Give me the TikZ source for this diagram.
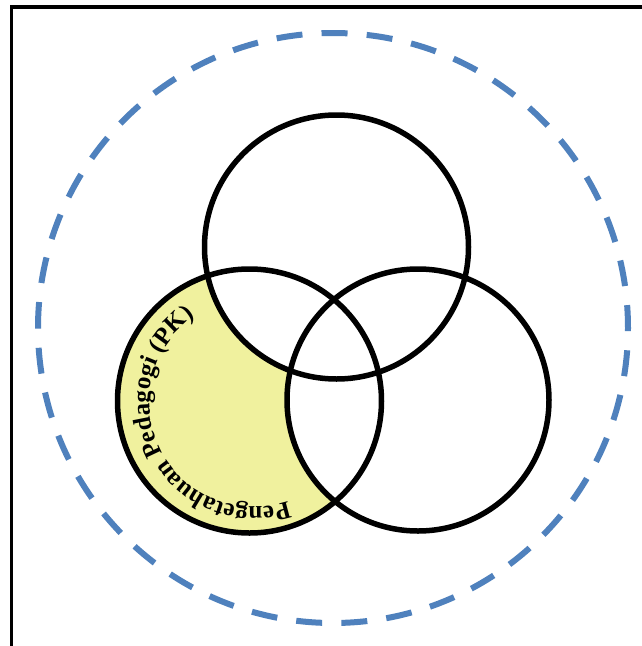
\documentclass[tikz,border=0pt]{standalone}
\usepackage{fontspec}
\setmainfont{Liberation Serif}
\usetikzlibrary{decorations.text}
\definecolor{pkyellow}{RGB}{240,241,158}
\definecolor{dashblue}{RGB}{79,129,189}
\tikzset{
  ring/.style={draw=black, line width=5.5pt},
  outerring/.style={draw=dashblue, line width=6pt, dash pattern=on 26pt off 19.2pt},
  frame/.style={draw=black, line width=3.5pt}
}
\begin{document}
\begin{tikzpicture}[x=1pt,y=1pt]
\useasboundingbox (0,0) rectangle (642,-646);
\clip (0,0) rectangle (642,-646);
\fill[white] (0,0) rectangle (642,-646);
% frame
\draw[frame] (11.5,-7) rectangle (700,-700);
% centres
\coordinate (T) at (336.5,-247);
\coordinate (L) at (249.5,-401);
\coordinate (R) at (418,-400);
\coordinate (O) at (333,-328);
\coordinate (Ltext) at (254,-402.5);
% outer dashed circle
\draw[outerring] (O) ++(180:295) arc[start angle=180, end angle=-180, radius=295];
% yellow region: left circle minus the other two
\fill[pkyellow] (L) circle[radius=132];
\fill[white] (T) circle[radius=132];
\fill[white] (R) circle[radius=131];
% outlines
\draw[ring] (T) circle[radius=132];
\draw[ring] (L) circle[radius=132];
\draw[ring] (R) circle[radius=131];
% curved label
\path[decorate, decoration={text along path,
   text={|\fontsize{25}{25}\selectfont\bfseries|Pengetahuan Pedagogi (PK)},
   text align={fit to path}}]
  (Ltext) ++(-71:104.5) arc[start angle=-71, end angle=-235.5, radius=104.5];
\end{tikzpicture}
\end{document}
